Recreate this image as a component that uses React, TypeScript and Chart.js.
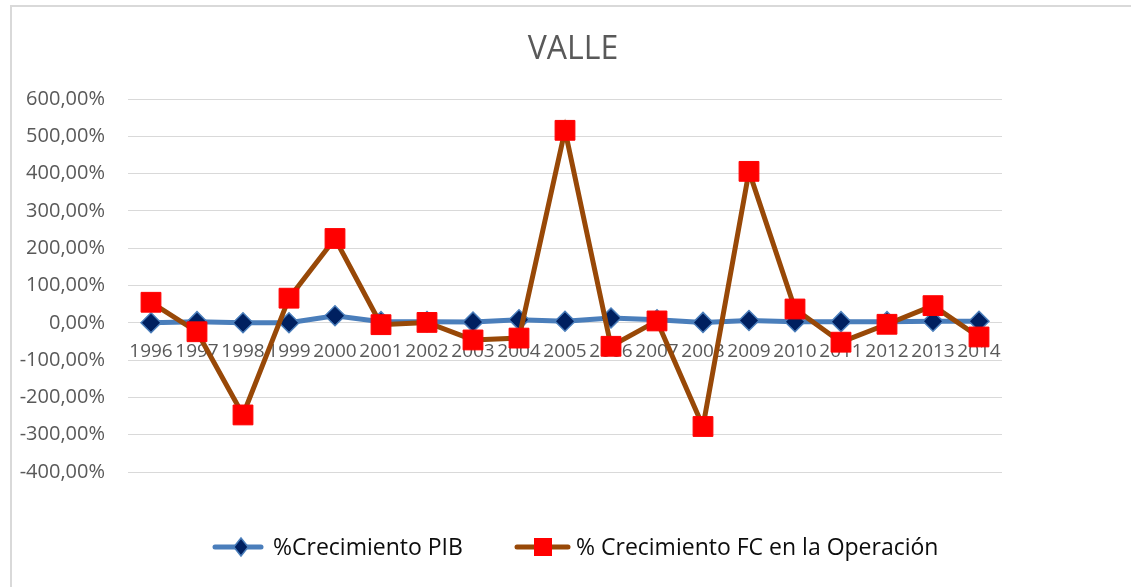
import React, { useEffect, useRef } from 'react';
import { Chart, registerables } from 'chart.js';

Chart.register(...registerables);

const TITLE = 'VALLE';
const categories = ['1996', '1997', '1998', '1999', '2000', '2001', '2002', '2003', '2004', '2005', '2006', '2007', '2008', '2009', '2010', '2011', '2012', '2013', '2014'];
const pibLabel = '%Crecimiento PIB';
const fcLabel = '% Crecimiento FC en la Operación';
const pibGrowth = [0, 3, 0, 0, 19, 3, 3, 2, 8, 4, 13, 8, 1, 6, 3, 3, 3, 4, 4];
const fcGrowth = [55, -24, -247, 66, 226, -5, 1, -46, -41, 516, -63, 5, -278, 406, 37, -52, -4, 46, -38];
const yMin = -400;
const yMax = 600;
const yStep = 100;

const FONT = "'Open Sans', sans-serif";
const PIB_LINE = '#4a7ebb';
const PIB_MARK = '#002060';
const FC_LINE = '#984807';
const FC_MARK = '#ff0000';

const formatPct = (v: number) => v.toFixed(2).replace('.', ',') + '%';

const decorPlugin = {
  id: 'decor',
  afterDraw(chart: any) {
    const ctx = chart.ctx as CanvasRenderingContext2D;
    ctx.save();
    // title
    ctx.fillStyle = '#595959';
    ctx.font = `32px ${FONT}`;
    ctx.textAlign = 'center';
    ctx.textBaseline = 'alphabetic';
    ctx.fillText(TITLE, 561, 52);

    // legend
    const cy = 540;
    ctx.font = `23px ${FONT}`;
    ctx.textAlign = 'left';
    // item 1
    ctx.strokeStyle = PIB_LINE;
    ctx.lineWidth = 5;
    ctx.lineCap = 'round';
    ctx.beginPath();
    ctx.moveTo(203, cy);
    ctx.lineTo(249, cy);
    ctx.stroke();
    ctx.beginPath();
    const dx = 229, r = 9;
    ctx.moveTo(dx, cy - r);
    ctx.lineTo(dx + r * 0.8, cy);
    ctx.lineTo(dx, cy + r);
    ctx.lineTo(dx - r * 0.8, cy);
    ctx.closePath();
    ctx.fillStyle = PIB_MARK;
    ctx.fill();
    ctx.lineWidth = 1.5;
    ctx.strokeStyle = PIB_LINE;
    ctx.stroke();
    ctx.fillStyle = '#0d0d0d';
    ctx.fillText(pibLabel, 261, 548);
    // item 2
    ctx.strokeStyle = FC_LINE;
    ctx.lineWidth = 5;
    ctx.beginPath();
    ctx.moveTo(505, cy);
    ctx.lineTo(556, cy);
    ctx.stroke();
    ctx.fillStyle = FC_MARK;
    ctx.fillRect(531 - 9, cy - 9, 18, 18);
    ctx.fillStyle = '#0d0d0d';
    ctx.fillText(fcLabel, 564, 548);
    ctx.restore();
  },
};

export default function App() {
  const ref = useRef<HTMLCanvasElement | null>(null);

  useEffect(() => {
    if (!ref.current) return;
    Chart.defaults.font.family = FONT;
    const chart = new Chart(ref.current, {
      type: 'line',
      data: {
        labels: categories,
        datasets: [
          {
            label: pibLabel,
            data: pibGrowth,
            borderColor: PIB_LINE,
            borderWidth: 5,
            tension: 0,
            pointStyle: 'rectRot',
            pointRadius: 10,
            pointBackgroundColor: PIB_MARK,
            pointBorderColor: PIB_LINE,
            pointBorderWidth: 1.5,
            order: 1,
          },
          {
            label: fcLabel,
            data: fcGrowth,
            borderColor: FC_LINE,
            borderWidth: 5,
            tension: 0,
            pointStyle: 'rect',
            pointRadius: 14,
            pointBackgroundColor: FC_MARK,
            pointBorderColor: FC_MARK,
            pointBorderWidth: 1,
            order: 0,
          },
        ],
      },
      options: {
        animation: false,
        responsive: false,
        layout: { padding: { left: 0, right: 129, top: 92, bottom: 115 } },
        plugins: {
          legend: { display: false },
          title: { display: false },
          tooltip: { enabled: false },
        },
        scales: {
          x: {
            position: { y: 0 } as any,
            offset: true,
            grid: { display: false },
            border: { display: false },
            ticks: {
              color: '#595959',
              font: { size: 19, family: FONT },
              padding: 9,
              maxRotation: 0,
              autoSkip: false,
            },
          },
          y: {
            min: yMin,
            max: yMax,
            grid: { color: '#d9d9d9', lineWidth: 1, drawTicks: false },
            border: { display: false },
            ticks: {
              stepSize: yStep,
              color: '#595959',
              font: { size: 20, family: FONT },
              padding: 23,
              callback: (v: any) => formatPct(Number(v)),
            },
            afterFit: (s: any) => {
              s.width = 116;
            },
          },
        },
      },
      plugins: [decorPlugin],
    });
    return () => chart.destroy();
  }, []);

  return (
    <div style={{ position: 'fixed', inset: 0, overflow: 'hidden', background: '#fff' }}>
      <div
        style={{
          position: 'absolute',
          left: 10,
          top: 5,
          width: 1140,
          height: 600,
          borderLeft: '2px solid #d9d9d9',
          borderTop: '2px solid #d9d9d9',
        }}
      >
        <canvas ref={ref} width={1119} height={580} style={{ display: 'block' }} />
      </div>
    </div>
  );
}
